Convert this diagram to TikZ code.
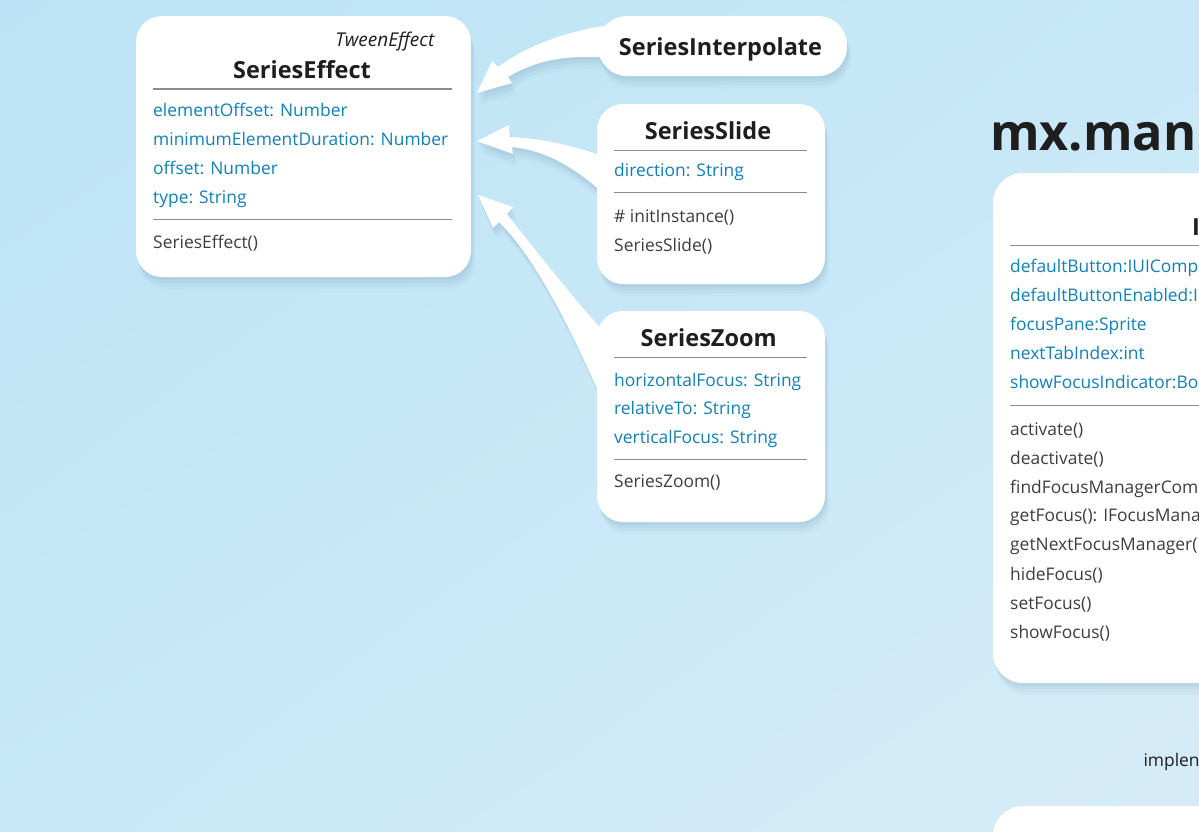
\documentclass[tikz,border=0pt]{standalone}
\usepackage{fontspec}
\setmainfont{Open Sans}
\usetikzlibrary{calc,shadings}
\definecolor{bgA}{RGB}{188,227,245}
\definecolor{bgB}{RGB}{214,236,247}
\definecolor{bgM}{RGB}{200,232,247}
\definecolor{attrblue}{RGB}{18,128,182}
\definecolor{methgray}{RGB}{62,62,62}
\definecolor{ttlblack}{RGB}{30,30,30}
\definecolor{sepgray}{RGB}{140,140,140}
\definecolor{shadowc}{RGB}{60,110,140}
\begin{document}
\begin{tikzpicture}[x=1pt,y=-1pt,
  softshadow/.style={
    preaction={fill=shadowc, fill opacity=0.05, transform canvas={xshift=1pt,yshift=-3pt}},
    preaction={fill=shadowc, fill opacity=0.05, transform canvas={xshift=2pt,yshift=-6pt}},
    preaction={fill=shadowc, fill opacity=0.04, transform canvas={xshift=3pt,yshift=-9pt}},
    preaction={fill=shadowc, fill opacity=0.03, transform canvas={xshift=4pt,yshift=-12pt}}},
  box/.style={fill=white, draw=none, rounded corners=26pt, inner sep=0pt, softshadow},
  arrowfill/.style={fill=white, draw=none, softshadow},
  txt/.style={inner sep=0pt, anchor=base west},
  attr/.style={txt, text=attrblue, font=\fontsize{17.4}{20}\selectfont},
  meth/.style={txt, text=methgray, font=\fontsize{17.4}{20}\selectfont},
  ttl/.style={inner sep=0pt, anchor=base, text=ttlblack, font=\bfseries\fontsize{23.5}{28}\selectfont},
  sepline/.style={draw=sepgray, line width=1.3pt}
]
\useasboundingbox (0,0) rectangle (1199,831);
\clip (0,0) rectangle (1199,831);
\shade[upper left=bgA, upper right=bgM, lower left=bgM, lower right=bgB] (0,0) rectangle (1199,831);

% arrows (generalisation)
\coordinate (t1) at (477,93);
\coordinate (t2) at (477,141);
\coordinate (t3) at (478,195);
\fill[arrowfill] (t1) -- (492,61) -- (498,67)
  .. controls (525,47) and (565,31) .. (610,25) -- (610,58)
  .. controls (570,54) and (535,60) .. (508,77) -- (512,83) -- cycle;
\fill[arrowfill] (t2) -- (509,125) -- (510,137)
  .. controls (545,139) and (575,146) .. (602,156) -- (602,192)
  .. controls (575,168) and (545,150) .. (512,147) -- (513,154) -- cycle;
\fill[arrowfill] (t3) -- (513,207) -- (507,214)
  .. controls (535,250) and (575,300) .. (602,330) -- (602,400)
  .. controls (580,350) and (540,262) .. (499,222) -- (493,228) -- cycle;

% class boxes
\node[box, minimum width=335pt, minimum height=261pt] (effect) at (303.5,146.5) {};
\node[box, rounded corners=29pt, minimum width=249pt, minimum height=60pt] (interp) at (722.5,46) {};
\node[box, minimum width=228pt, minimum height=180pt] (slide) at (711,194) {};
\node[box, minimum width=228pt, minimum height=211pt] (zoom) at (711,416.5) {};
\node[box, rounded corners=30pt, minimum width=300pt, minimum height=510pt] (focus) at (1143,428) {};
\node[box, rounded corners=30pt, minimum width=300pt, minimum height=120pt] (nextbox) at (1143,866) {};

% SeriesEffect
\node[inner sep=0pt, anchor=base east, text=ttlblack, font=\itshape\fontsize{19}{22}\selectfont] (effS) at (434.5,46.7) {TweenEffect};
\node[ttl] (effT) at (302,78.3) {SeriesEffect};
\draw[sepline] (152.7,89) -- (451.7,89);
\node[attr] (e1) at (153,116) {elementOffset: Number};
\node[attr] (e2) at (153,145) {minimumElementDuration: Number};
\node[attr] (e3) at (153,174) {offset: Number};
\node[attr] (e4) at (153,203) {type: String};
\draw[sepline] (152.7,219.3) -- (451.7,219.3);
\node[meth] (e5) at (153,248) {SeriesEffect()};

% SeriesInterpolate
\node[ttl] (intT) at (720.5,55) {SeriesInterpolate};

% SeriesSlide
\node[ttl] (slT) at (708,139.3) {SeriesSlide};
\draw[sepline] (614,150.7) -- (806.7,150.7);
\node[attr] (s1) at (614,176.7) {direction: String};
\draw[sepline] (614,192.7) -- (806.7,192.7);
\node[meth] (s2) at (614,222.5) {\# initInstance()};
\node[meth] (s3) at (614,251) {SeriesSlide()};

% SeriesZoom
\node[ttl] (zT) at (708.7,346.7) {SeriesZoom};
\draw[sepline] (614,357.7) -- (807.3,357.7);
\node[attr] (z1) at (614,386) {horizontalFocus: String};
\node[attr] (z2) at (614,414.5) {relativeTo: String};
\node[attr] (z3) at (614,443.3) {verticalFocus: String};
\draw[sepline] (614,459.3) -- (807.3,459.3);
\node[meth] (z4) at (614,487.7) {SeriesZoom()};

% mx.managers package
\node[inner sep=0pt, anchor=base west, text=ttlblack, font=\bfseries\fontsize{50.5}{56}\selectfont] (pkg) at (990,150.7) {mx.man};
\node[inner sep=0pt, anchor=base west, text=ttlblack, font=\bfseries\fontsize{23.5}{28}\selectfont] (fT) at (1192,235) {I};
\draw[sepline] (1010,245.7) -- (1210,245.7);
\node[attr] (f1) at (1010,272.7) {defaultButton:IUIComp};
\node[attr] (f2) at (1010,301.5) {defaultButtonEnabled:I};
\node[attr] (f3) at (1010,330.3) {focusPane:Sprite};
\node[attr] (f4) at (1010,359.3) {nextTabIndex:int};
\node[attr] (f5) at (1010,388.3) {showFocusIndicator:Bo};
\draw[sepline] (1010,405.7) -- (1210,405.7);
\node[meth] (m1) at (1010,435) {activate()};
\node[meth] (m2) at (1010,464) {deactivate()};
\node[meth] (m3) at (1010,493.3) {findFocusManagerCom};
\node[meth] (m4) at (1010,521.7) {getFocus(): IFocusMana};
\node[meth] (m5) at (1010,550.7) {getNextFocusManager(};
\node[meth] (m6) at (1010,580) {hideFocus()};
\node[meth] (m7) at (1010,609.3) {setFocus()};
\node[meth] (m8) at (1010,638.3) {showFocus()};
\node[inner sep=0pt, anchor=base west, text=ttlblack, font=\fontsize{17.4}{20}\selectfont] (impl) at (1143.3,766.7) {implen};
\end{tikzpicture}
\end{document}
